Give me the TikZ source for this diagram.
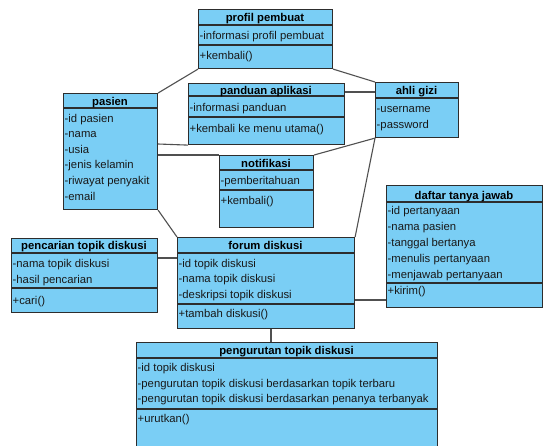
\documentclass[tikz,border=0pt]{standalone}
\usepackage{fontspec}
\setmainfont{Liberation Sans}
\definecolor{fillc}{RGB}{122,206,245}
\definecolor{boxc}{RGB}{45,45,45}
\definecolor{linec}{RGB}{80,80,80}
\definecolor{txtc}{RGB}{25,25,25}
\begin{document}
\begin{tikzpicture}[x=1pt,y=-1pt,
  cls/.style={draw=boxc, fill=fillc, line width=1.1pt, rectangle, inner sep=0pt, anchor=north west},
  ttl/.style={font=\fontsize{11.3}{13}\selectfont\bfseries, text=black, anchor=base, inner sep=0pt},
  itm/.style={font=\fontsize{11.3}{13}\selectfont, text=txtc, anchor=base west, inner sep=0pt},
  sepl/.style={draw=boxc, line width=1.1pt},
  conn/.style={draw=linec, line width=1.1pt}]
\path[clip] (0,0) rectangle (545,445);
\fill[white] (0,0) rectangle (545,445);

% profil pembuat
\node[cls, minimum width=134pt, minimum height=59pt] (profil) at (198,9) {};
\draw[sepl] (profil.west |- 0,25) -- (profil.east |- 0,25);
\draw[sepl] (profil.west |- 0,45) -- (profil.east |- 0,45);
\node[ttl] (profilT) at (265,21) {profil pembuat};
\node[itm] (profilA) at (199.5,39) {-informasi profil pembuat};
\node[itm] (profilM) at (199.5,59) {+kembali()};

% panduan aplikasi
\node[cls, minimum width=156pt, minimum height=61pt] (panduan) at (188,83) {};
\draw[sepl] (panduan.west |- 0,96) -- (panduan.east |- 0,96);
\draw[sepl] (panduan.west |- 0,117) -- (panduan.east |- 0,117);
\node[ttl] (panduanT) at (266,94) {panduan aplikasi};
\node[itm] (panduanA) at (189.5,111) {-informasi panduan};
\node[itm] (panduanM) at (189.5,132) {+kembali ke menu utama()};

% ahli gizi
\node[cls, minimum width=83pt, minimum height=55pt] (ahli) at (375,82) {};
\draw[sepl] (ahli.west |- 0,98) -- (ahli.east |- 0,98);
\node[ttl] (ahliT) at (416.5,94) {ahli gizi};
\node[itm] (ahliA1) at (376.5,112) {-username};
\node[itm] (ahliA2) at (376.5,128) {-password};

% pasien
\node[cls, minimum width=94pt, minimum height=116pt] (pasien) at (63,93) {};
\draw[sepl] (pasien.west |- 0,108) -- (pasien.east |- 0,108);
\node[ttl] (pasienT) at (110,105) {pasien};
\node[itm] (pasienA1) at (64.5,122) {-id pasien};
\node[itm] (pasienA2) at (64.5,137.6) {-nama};
\node[itm] (pasienA3) at (64.5,153.2) {-usia};
\node[itm] (pasienA4) at (64.5,168.8) {-jenis kelamin};
\node[itm] (pasienA5) at (64.5,184.4) {-riwayat penyakit};
\node[itm] (pasienA6) at (64.5,200) {-email};

% notifikasi
\node[cls, minimum width=94pt, minimum height=72pt] (notif) at (219,155) {};
\draw[sepl] (notif.west |- 0,170) -- (notif.east |- 0,170);
\draw[sepl] (notif.west |- 0,190) -- (notif.east |- 0,190);
\node[ttl] (notifT) at (266,167.5) {notifikasi};
\node[itm] (notifA) at (220.5,184) {-pemberitahuan};
\node[itm] (notifM) at (220.5,204) {+kembali()};

% daftar tanya jawab
\node[cls, minimum width=156pt, minimum height=122pt] (daftar) at (386,185) {};
\draw[sepl] (daftar.west |- 0,202) -- (daftar.east |- 0,202);
\draw[sepl] (daftar.west |- 0,283) -- (daftar.east |- 0,283);
\node[ttl] (daftarT) at (464,199) {daftar tanya jawab};
\node[itm] (daftarA1) at (387.5,214) {-id pertanyaan};
\node[itm] (daftarA2) at (387.5,230) {-nama pasien};
\node[itm] (daftarA3) at (387.5,246) {-tanggal bertanya};
\node[itm] (daftarA4) at (387.5,262) {-menulis pertanyaan};
\node[itm] (daftarA5) at (387.5,278) {-menjawab pertanyaan};
\node[itm] (daftarM) at (387.5,294) {+kirim()};

% pencarian topik diskusi
\node[cls, minimum width=146pt, minimum height=74pt] (cari) at (11,238) {};
\draw[sepl] (cari.west |- 0,253) -- (cari.east |- 0,253);
\draw[sepl] (cari.west |- 0,288) -- (cari.east |- 0,288);
\node[ttl] (cariT) at (84,249) {pencarian topik diskusi};
\node[itm] (cariA1) at (12.5,267.5) {-nama topik diskusi};
\node[itm] (cariA2) at (12.5,283.5) {-hasil pencarian};
\node[itm] (cariM) at (12.5,304) {+cari()};

% forum diskusi
\node[cls, minimum width=177pt, minimum height=91pt] (forum) at (177,237) {};
\draw[sepl] (forum.west |- 0,253) -- (forum.east |- 0,253);
\draw[sepl] (forum.west |- 0,304) -- (forum.east |- 0,304);
\node[ttl] (forumT) at (265.5,249) {forum diskusi};
\node[itm] (forumA1) at (178.5,267.3) {-id topik diskusi};
\node[itm] (forumA2) at (178.5,282.8) {-nama topik diskusi};
\node[itm] (forumA3) at (178.5,298.3) {-deskripsi topik diskusi};
\node[itm] (forumM) at (178.5,317.5) {+tambah diskusi()};

% pengurutan topik diskusi
\node[cls, minimum width=301pt, minimum height=112pt] (urut) at (136,342) {};
\draw[sepl] (urut.west |- 0,358) -- (urut.east |- 0,358);
\draw[sepl] (urut.west |- 0,409) -- (urut.east |- 0,409);
\node[ttl] (urutT) at (286.5,354) {pengurutan topik diskusi};
\node[itm] (urutA1) at (137.5,371.5) {-id topik diskusi};
\node[itm] (urutA2) at (137.5,387) {-pengurutan topik diskusi berdasarkan topik terbaru};
\node[itm] (urutA3) at (137.5,402.5) {-pengurutan topik diskusi berdasarkan penanya terbanyak};
\node[itm] (urutM) at (137.5,422.5) {+urutkan()};

% connectors
\draw[conn] (profil.south west) -- (pasien.north east);
\draw[conn] (profil.south east) -- (ahli.north west);
\draw[conn] (panduan.east |- 0,92) -- (ahli.west |- 0,92);
\draw[conn] (pasien.east |- 0,144) -- (panduan.south west);
\draw[conn] (pasien.east |- 0,155) -- (notif.north west);
\draw[conn] (notif.north east) -- (ahli.south west);
\draw[conn] (ahli.south west) -- (forum.north east);
\draw[conn] (pasien.south east) -- (forum.north west);
\draw[conn] (cari.east |- 0,258) -- (forum.west |- 0,258);
\draw[conn] (forum.east |- 0,300) -- (daftar.west |- 0,300);
\draw[conn] (forum.south -| 271,0) -- (urut.north -| 271,0);
\end{tikzpicture}
\end{document}
